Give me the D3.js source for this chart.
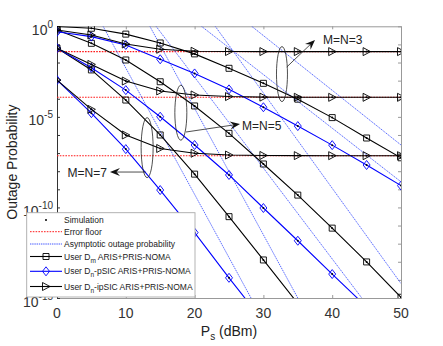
<!DOCTYPE html>
<html>
<head>
<meta charset="utf-8">
<script src="https://cdn.jsdelivr.net/npm/d3@7"></script>
<style>
body { margin: 0; background: #fff; }
svg { font-family: 'Liberation Sans', Arial, sans-serif; }
</style>
</head>
<body>
<svg id="chart" width="443" height="346"></svg>
<script>
var snr = [0, 5, 10, 15, 20, 25, 30, 35, 40, 45, 50];

// user Dm
var dmM3 = [0.98, 0.78, 0.37, 0.12, 0.030, 4.8e-3, 7.1e-4, 9.5e-5, 9.1e-6, 6.8e-7, 5.5e-8];
var dmM5 = [0.63, 0.115, 0.0138, 8.7e-4, 4.0e-5, 1.23e-6, 2.5e-8, 4.8e-10, 7.2e-12, 9.8e-14, 1.1e-15];
var dmM7 = [0.062, 3.9e-3, 8.5e-5, 1.0e-6, 6.9e-9, 3.1e-11, 1.26e-13, 5e-16, null, null, null];

// user Dn, perfect SIC
var psicM3 = [0.50, 0.27, 0.093, 0.0151, 2.5e-3, 3.3e-4, 3.4e-5, 3.1e-6, 2.75e-7, 2.2e-8, 1.6e-9];
var psicM5 = [0.062, 5.1e-3, 3.0e-4, 1.02e-5, 2.8e-7, 6.2e-9, 9.3e-11, 1.45e-12, 2.1e-14, 3.2e-16, null];
var psicM7 = [1.07e-3, 1.6e-5, 1.66e-7, 9.1e-10, 4.1e-12, 1.3e-14, 5e-17, null, null, null, null];

// user Dn, imperfect SIC
var ipsicM3 = [0.63, 0.33, 0.105, 0.054, 0.042, 0.0405, 0.0402, 0.0401, 0.04, 0.04, 0.04];
var ipsicM5 = [0.062, 7.9e-3, 9.5e-4, 2.7e-4, 1.62e-4, 1.32e-4, 1.23e-4, 1.21e-4, 1.2e-4, 1.2e-4, 1.2e-4];
var ipsicM7 = [1.07e-3, 2.6e-5, 1.0e-6, 1.8e-7, 9.8e-8, 7.8e-8, 7.4e-8, 7.25e-8, 7.2e-8, 7.2e-8, 7.2e-8];

var errorFloors = [0.04, 1.2e-4, 7.2e-8];

// asymptotic lines, [snr, probability] end points
var asymptotes = [
  [[28.3, 1], [50, 2.8e-7]],
  [[21.0, 1], [50, 2.6e-9]],
  [[14.4, 1], [44.3, 1e-15]],
  [[23.0, 1], [50, 6.3e-15]],
  [[6.7, 1], [28.2, 1e-15]],
  [[13.5, 1], [35.0, 1e-15]]
];

var xTicks = [0, 10, 20, 30, 40, 50];
var yLabelExp = [0, -5, -10, -15];

var groupLabels = ['M=N=3', 'M=N=5', 'M=N=7'];
var ellipseAt = [[32.7, 2.3e-3], [18.0, 1.7e-5], [13.1, 2.0e-7]];
var arrowFrom = [[33.4, 5.66e-3], [18.75, 1.46e-6], [12.9, 9.0e-9]];
var arrowTo = [[37.5, 0.175], [26.6, 4.03e-6], [7.7, 9.0e-9]];

var svg = d3.select('#chart');
var plotLeft = 57, plotRight = 401, plotTop = 26.3, plotBottom = 298;

var x = d3.scaleLinear().domain([0, 50]).range([plotLeft, plotRight]);
var y = d3.scaleLog().domain([1e-15, 1]).range([plotBottom, plotTop]);

svg.append('defs').append('clipPath').attr('id', 'plotClip')
  .append('rect')
  .attr('x', plotLeft).attr('y', plotTop)
  .attr('width', plotRight - plotLeft).attr('height', plotBottom - plotTop);

// axes box and ticks
var decades = d3.range(0, 16).map(function(k) { return Math.pow(10, -k); });

function styleAxis(g, color) {
  g.selectAll('path').attr('stroke', color).attr('stroke-width', 1);
  g.selectAll('line').attr('stroke', color);
  g.selectAll('text').remove();
}

svg.append('g').attr('transform', 'translate(0,' + plotBottom + ')')
  .call(d3.axisBottom(x).tickValues(xTicks).tickSizeInner(-3).tickSizeOuter(0))
  .call(styleAxis, '#999');
svg.append('g').attr('transform', 'translate(0,' + plotTop + ')')
  .call(d3.axisTop(x).tickValues(xTicks).tickSizeInner(-3).tickSizeOuter(0))
  .call(styleAxis, '#999');
svg.append('g').attr('transform', 'translate(' + plotRight + ',0)')
  .call(d3.axisRight(y).tickValues(decades).tickSizeInner(-3).tickSizeOuter(0))
  .call(styleAxis, '#999');
svg.append('g').attr('transform', 'translate(' + plotLeft + ',0)')
  .call(d3.axisLeft(y).tickValues(decades).tickSizeInner(-3).tickSizeOuter(0))
  .call(styleAxis, '#333');

// tick labels
svg.selectAll('.xlab').data(xTicks).enter().append('text')
  .attr('x', function(d) { return x(d); })
  .attr('y', plotBottom + 20)
  .attr('text-anchor', 'middle')
  .style('font-size', '14px')
  .style('fill', '#333')
  .text(function(d) { return d; });

var yLab = svg.selectAll('.ylab').data(yLabelExp).enter().append('text')
  .attr('x', 53)
  .attr('y', function(d) { return y(Math.pow(10, d)) + 8.5; })
  .attr('text-anchor', 'end')
  .style('font-size', '14px')
  .style('fill', '#333');
yLab.append('tspan').text('10');
yLab.append('tspan').attr('dy', -7).style('font-size', '10px').text(function(d) { return d; });

svg.append('text')
  .attr('transform', 'translate(17,' + ((plotTop + plotBottom) / 2) + ') rotate(-90)')
  .attr('text-anchor', 'middle')
  .style('font-size', '14px')
  .style('fill', '#222')
  .text('Outage Probability');

var xTitle = svg.append('text')
  .attr('x', (plotLeft + plotRight) / 2)
  .attr('y', 335.5)
  .attr('text-anchor', 'middle')
  .style('font-size', '14px')
  .style('fill', '#222');
xTitle.append('tspan').text('P');
xTitle.append('tspan').attr('dy', 4).style('font-size', '10px').text('s');
xTitle.append('tspan').attr('dy', -4).text(' (dBm)');

var plot = svg.append('g').attr('clip-path', 'url(#plotClip)');

// error floors
plot.selectAll('.floor').data(errorFloors).enter().append('line')
  .attr('x1', x(0)).attr('x2', x(50))
  .attr('y1', function(d) { return y(d); })
  .attr('y2', function(d) { return y(d); })
  .attr('stroke', '#ff1a1a')
  .attr('stroke-width', 1.1)
  .attr('stroke-dasharray', '1.6,1.2');

var segment = d3.line()
  .x(function(d) { return x(d[0]); })
  .y(function(d) { return y(d[1]); });

plot.selectAll('.asym').data(asymptotes).enter().append('path')
  .attr('d', segment)
  .attr('fill', 'none')
  .attr('stroke', '#2f45ff')
  .attr('stroke-width', 0.8)
  .attr('stroke-dasharray', '1.4,0.8');

var curves = [
  { values: dmM3, color: '#000', marker: 'square' },
  { values: dmM5, color: '#000', marker: 'square' },
  { values: dmM7, color: '#000', marker: 'square' },
  { values: psicM3, color: '#0000ff', marker: 'diamond' },
  { values: psicM5, color: '#0000ff', marker: 'diamond' },
  { values: psicM7, color: '#0000ff', marker: 'diamond' },
  { values: ipsicM3, color: '#000', marker: 'triangle' },
  { values: ipsicM5, color: '#000', marker: 'triangle' },
  { values: ipsicM7, color: '#000', marker: 'triangle' }
];

var markerPath = {
  square: 'M-3,-3H3V3H-3Z',
  diamond: 'M0,-4.5L3.5,0L0,4.5L-3.5,0Z',
  triangle: 'M-3.5,-4L4,0L-3.5,4Z'
};

var curveLine = d3.line()
  .defined(function(d) { return d[1] != null; })
  .x(function(d) { return x(d[0]); })
  .y(function(d) { return y(d[1]); });

curves.forEach(function(c) {
  var pts = snr.map(function(s, i) { return [s, c.values[i]]; });
  plot.append('path')
    .attr('d', curveLine(pts))
    .attr('fill', 'none')
    .attr('stroke', c.color)
    .attr('stroke-width', 1.1);
  var shown = pts.filter(function(p) { return p[1] != null; });
  plot.selectAll(null).data(shown).enter().append('path')
    .attr('transform', function(d) { return 'translate(' + x(d[0]) + ',' + y(d[1]) + ')'; })
    .attr('d', markerPath[c.marker])
    .attr('fill', 'none')
    .attr('stroke', c.color)
    .attr('stroke-width', 0.9);
  plot.selectAll(null).data(shown).enter().append('circle')
    .attr('cx', function(d) { return x(d[0]); })
    .attr('cy', function(d) { return y(d[1]); })
    .attr('r', 1)
    .attr('fill', '#000');
});

// annotations
var ellipseR = [[5.5, 27.5], [6, 27.5], [6, 30]];
ellipseAt.forEach(function(e, i) {
  svg.append('ellipse')
    .attr('cx', x(e[0])).attr('cy', y(e[1]))
    .attr('rx', ellipseR[i][0]).attr('ry', ellipseR[i][1])
    .attr('fill', 'none')
    .attr('stroke', '#222')
    .attr('stroke-width', 0.8);
});

function drawArrow(p1, p2) {
  var x1 = x(p1[0]), y1 = y(p1[1]), x2 = x(p2[0]), y2 = y(p2[1]);
  var a = Math.atan2(y2 - y1, x2 - x1);
  var len = 10, half = 4, notch = 6.5;
  var bx = x2 - len * Math.cos(a), by = y2 - len * Math.sin(a);
  var nx = x2 - notch * Math.cos(a), ny = y2 - notch * Math.sin(a);
  svg.append('line')
    .attr('x1', x1).attr('y1', y1).attr('x2', nx).attr('y2', ny)
    .attr('stroke', '#222').attr('stroke-width', 0.8);
  svg.append('path')
    .attr('d', 'M' + x2 + ',' + y2 +
      'L' + (bx - half * Math.sin(a)) + ',' + (by + half * Math.cos(a)) +
      'L' + nx + ',' + ny +
      'L' + (bx + half * Math.sin(a)) + ',' + (by - half * Math.cos(a)) + 'Z')
    .attr('fill', '#111');
}

var labelShift = [[8, -1], [2, 1], [-3, 0]];
var labelAnchor = ['start', 'start', 'end'];
groupLabels.forEach(function(lbl, i) {
  drawArrow(arrowFrom[i], arrowTo[i]);
  svg.append('text')
    .attr('x', x(arrowTo[i][0]) + labelShift[i][0])
    .attr('y', y(arrowTo[i][1]) + labelShift[i][1] + 4.5)
    .attr('text-anchor', labelAnchor[i])
    .style('font-size', '12px')
    .style('fill', '#222')
    .text(lbl);
});

// legend
var legend = svg.append('g');
legend.append('rect')
  .attr('x', 26.7).attr('y', 212.7)
  .attr('width', 168.3).attr('height', 84.3)
  .attr('fill', '#fff')
  .attr('stroke', '#aaa')
  .attr('stroke-width', 0.9);

var legendItems = [
  { text: 'Simulation', kind: 'dot' },
  { text: 'Error floor', kind: 'floor' },
  { text: 'Asymptotic outage probability', kind: 'asym' },
  { text: 'User D', sub: 'm', rest: ' ARIS+PRIS-NOMA', kind: 'curve', color: '#000', marker: 'square' },
  { text: 'User D', sub: 'n', rest: '-pSIC ARIS+PRIS-NOMA', kind: 'curve', color: '#0000ff', marker: 'diamond' },
  { text: 'User D', sub: 'n', rest: '-ipSIC ARIS+PRIS-NOMA', kind: 'curve', color: '#000', marker: 'triangle' }
];
var legendY = [220, 231.7, 244, 256.5, 271.3, 286.5];

legendItems.forEach(function(item, i) {
  var ly = legendY[i];
  if (item.kind === 'dot') {
    legend.append('circle').attr('cx', 46).attr('cy', ly).attr('r', 1).attr('fill', '#000');
  } else if (item.kind === 'floor') {
    legend.append('line').attr('x1', 30).attr('x2', 62).attr('y1', ly).attr('y2', ly)
      .attr('stroke', '#ff1a1a').attr('stroke-width', 1).attr('stroke-dasharray', '1.6,1.2');
  } else if (item.kind === 'asym') {
    legend.append('line').attr('x1', 30).attr('x2', 62).attr('y1', ly).attr('y2', ly)
      .attr('stroke', '#2f45ff').attr('stroke-width', 0.9).attr('stroke-dasharray', '1.4,0.8');
  } else {
    legend.append('line').attr('x1', 30).attr('x2', 62).attr('y1', ly).attr('y2', ly)
      .attr('stroke', item.color).attr('stroke-width', 1.1);
    legend.append('path')
      .attr('transform', 'translate(46,' + ly + ')')
      .attr('d', markerPath[item.marker])
      .attr('fill', 'none')
      .attr('stroke', item.color)
      .attr('stroke-width', 0.9);
  }
  var t = legend.append('text')
    .attr('x', 64)
    .attr('y', ly + 3)
    .style('font-size', '8.5px')
    .style('fill', '#222');
  t.append('tspan').text(item.text);
  if (item.sub) {
    t.append('tspan').attr('dy', 3).style('font-size', '6.5px').text(item.sub);
    t.append('tspan').attr('dy', -3).text(item.rest);
  }
});
</script>
</body>
</html>
